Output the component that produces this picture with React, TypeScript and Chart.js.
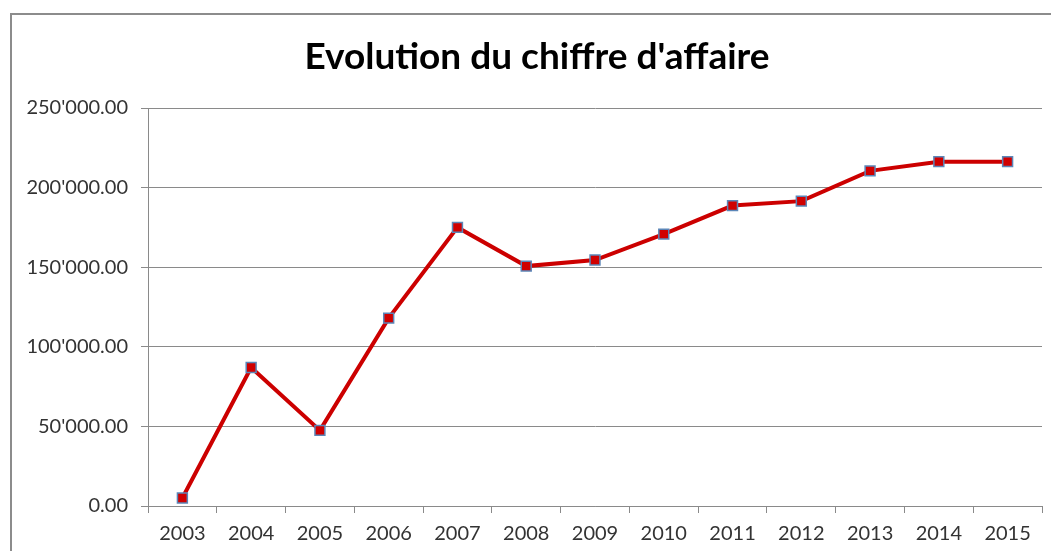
import React, { useEffect, useRef } from "react";
import { Chart, registerables } from "chart.js";

Chart.register(...registerables);

const years = ["2003", "2004", "2005", "2006", "2007", "2008", "2009", "2010", "2011", "2012", "2013", "2014", "2015"];
const revenue = [5000, 87000, 47500, 118000, 175000, 150700, 154500, 170800, 188700, 191500, 210500, 216300, 216300];
const yMin = 0;
const yMax = 250000;
const yStep = 50000;
const titleText = "Evolution du chiffre d'affaire";

function formatSwiss(v: number): string {
  const s = Number(v).toFixed(2);
  const [i, d] = s.split(".");
  return i.replace(/\B(?=(\d{3})+(?!\d))/g, "'") + "." + d;
}

const titleShift = {
  id: "titleShift",
  afterLayout(chart: any) {
    const t = chart.titleBlock;
    if (t) {
      t.left = 32;
    }
  },
};

export default function App() {
  const ref = useRef<HTMLCanvasElement | null>(null);

  useEffect(() => {
    if (!ref.current) return;
    const gridColor = "#8a8a8a";
    const textColor = "#333333";
    const chart = new Chart(ref.current, {
      type: "line",
      data: {
        labels: years,
        datasets: [
          {
            label: "Chiffre d'affaire",
            data: revenue,
            borderColor: "#cc0000",
            borderWidth: 4,
            backgroundColor: "#d00000",
            pointStyle: "rect",
            pointRadius: 7,
            pointBorderColor: "#5b86b8",
            pointBorderWidth: 1.5,
            pointBackgroundColor: "#d00000",
            tension: 0,
          },
        ],
      },
      options: {
        responsive: false,
        animation: false,
        layout: { padding: { left: 0, right: 9, top: 0, bottom: 0 } },
        plugins: {
          legend: { display: false },
          tooltip: { enabled: false },
          title: {
            display: true,
            text: titleText,
            color: "#000",
            font: { family: "Lato", size: 37, weight: "bold", lineHeight: 1.2 },
            padding: { top: 35, bottom: 28.6 },
          },
        },
        scales: {
          x: {
            type: "category",
            offset: true,
            grid: {
              offset: true,
              drawOnChartArea: false,
              drawTicks: true,
              tickLength: 7,
              color: gridColor,
            },
            border: { display: true, color: gridColor, width: 1 },
            ticks: {
              color: textColor,
              font: { family: "Lato", size: 20 },
              padding: 9,
              maxRotation: 0,
            },
            afterFit: (scale: any) => {
              scale.height = 45;
            },
          },
          y: {
            min: yMin,
            max: yMax,
            ticks: {
              stepSize: yStep,
              color: textColor,
              font: { family: "Lato", size: 20 },
              padding: 13,
              callback: (v: any) => formatSwiss(Number(v)),
            },
            grid: {
              color: gridColor,
              drawTicks: true,
              tickLength: 7,
            },
            border: { display: true, color: gridColor, width: 1 },
            afterFit: (scale: any) => {
              scale.width = 148;
            },
          },
        },
      },
      plugins: [titleShift],
    });
    return () => chart.destroy();
  }, []);

  return (
    <div
      style={{
        position: "fixed",
        left: 0,
        top: 0,
        width: 1051,
        height: 551,
        overflow: "hidden",
        background: "#ffffff",
      }}
    >
      <div
        style={{
          position: "absolute",
          left: 10,
          top: 13,
          width: 1200,
          height: 700,
          border: "2px solid #8c8c8c",
          boxSizing: "border-box",
        }}
      />
      <canvas
        ref={ref}
        width={1051}
        height={551}
        style={{ position: "absolute", left: 0, top: 0, width: 1051, height: 551 }}
      />
    </div>
  );
}
